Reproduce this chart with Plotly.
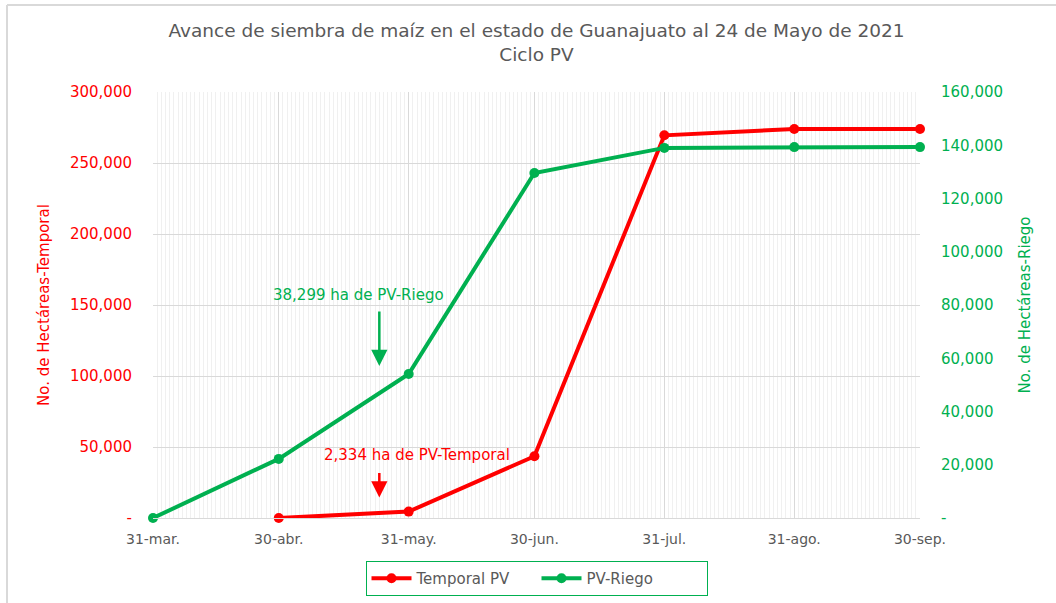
import plotly.graph_objects as go

# ---- data ----
temporal_dates = ["2021-04-30", "2021-05-31", "2021-06-30", "2021-07-31", "2021-08-31", "2021-09-30"]
temporal_values = [0, 4500, 43500, 269500, 274000, 274000]

riego_dates = ["2021-03-31", "2021-04-30", "2021-05-31", "2021-06-30", "2021-07-31", "2021-08-31", "2021-09-30"]
riego_values = [0, 22200, 54100, 129600, 139000, 139300, 139300]

x_tickvals = ["2021-03-31", "2021-04-30", "2021-05-31", "2021-06-30", "2021-07-31", "2021-08-31", "2021-09-30"]
x_ticktext = ["31-mar.", "30-abr.", "31-may.", "30-jun.", "31-jul.", "31-ago.", "30-sep."]

y1_tickvals = [0, 50000, 100000, 150000, 200000, 250000, 300000]
y1_ticktext = ["-", "50,000", "100,000", "150,000", "200,000", "250,000", "300,000"]
y2_tickvals = [0, 20000, 40000, 60000, 80000, 100000, 120000, 140000, 160000]
y2_ticktext = ["-", "20,000", "40,000", "60,000", "80,000", "100,000", "120,000", "140,000", "160,000"]

RED = "#FF0000"
GREEN = "#00B050"
GRAY = "#595959"
FONT = "DejaVu Sans"

fig = go.Figure()
fig.add_trace(go.Scatter(
    x=temporal_dates, y=temporal_values, name="Temporal PV", mode="lines+markers",
    line=dict(color=RED, width=4), marker=dict(color=RED, size=10), cliponaxis=False,
    yaxis="y"))
fig.add_trace(go.Scatter(
    x=riego_dates, y=riego_values, name="PV-Riego", mode="lines+markers",
    line=dict(color=GREEN, width=4), marker=dict(color=GREEN, size=10), cliponaxis=False,
    yaxis="y2"))

L, R, T, B = 153, 136, 92, 85
W, H = 1056, 603
pw, ph = W - L - R, H - T - B

def px(x):
    return (x - L) / pw

def py(y):
    return (H - B - y) / ph

fig.update_layout(
    width=W, height=H,
    margin=dict(l=L, r=R, t=T, b=B, autoexpand=False),
    paper_bgcolor="white", plot_bgcolor="white",
    font=dict(family=FONT, color=GRAY),
    title=dict(text="Avance de siembra de maíz en el estado de Guanajuato al 24 de Mayo de 2021<br>Ciclo PV",
               x=0.5, xref="paper", xanchor="center", y=1 - 37 / H, yref="container", yanchor="top",
               font=dict(size=18.5, color=GRAY, family=FONT)),
    xaxis=dict(type="date", range=["2021-03-31", "2021-09-30"],
               tickvals=x_tickvals, ticktext=x_ticktext,
               tickfont=dict(size=14, color=GRAY),
               showgrid=True, gridcolor="#D9D9D9", gridwidth=1,
               minor=dict(dtick=86400000, showgrid=True, gridcolor="#F0F0F0", gridwidth=1, tick0="2021-03-31"),
               showline=True, linecolor="#D9D9D9", linewidth=1,
               zeroline=False, ticks="", ticklabelstandoff=8, automargin=False),
    yaxis=dict(range=[0, 300000], tickvals=y1_tickvals, ticktext=y1_ticktext,
               tickfont=dict(size=15, color=RED),
               title=dict(text="No. de Hectáreas-Temporal", font=dict(size=15, color=RED), standoff=16),
               showgrid=True, gridcolor="#D9D9D9", zeroline=False, ticklabelstandoff=20,
               automargin=False),
    yaxis2=dict(range=[0, 160000], tickvals=y2_tickvals, ticktext=y2_ticktext,
                overlaying="y", side="right",
                tickfont=dict(size=15, color=GREEN),
                title=dict(text="No. de Hectáreas-Riego", font=dict(size=15, color=GREEN), standoff=17),
                showgrid=False, zeroline=False, ticklabelstandoff=20, automargin=False),
    legend=dict(orientation="h", x=0.5, xanchor="center", y=py(561), yanchor="top",
                bordercolor=GREEN, borderwidth=1, bgcolor="white",
                font=dict(size=15, color=GRAY), itemwidth=40, entrywidth=115),
    showlegend=True,
)

# frame lines
fig.add_shape(type="line", xref="paper", yref="paper", x0=px(7), x1=px(1056), y0=py(5), y1=py(5),
              line=dict(color="#D9D9D9", width=2))
fig.add_shape(type="line", xref="paper", yref="paper", x0=px(7), x1=px(7), y0=py(5), y1=py(603),
              line=dict(color="#D9D9D9", width=2))

# annotations
fig.add_annotation(x="2021-05-19", y=157000, xref="x", yref="y", text="38,299 ha de PV-Riego",
                   showarrow=False, font=dict(size=15, color=GREEN))
fig.add_annotation(x="2021-05-24", y=107000, xref="x", yref="y", ax=0, ay=-56, text="",
                   showarrow=True, arrowhead=2, arrowsize=1.3, arrowwidth=2.5, arrowcolor=GREEN)
fig.add_annotation(x="2021-06-02", y=44500, xref="x", yref="y", text="2,334 ha de PV-Temporal",
                   showarrow=False, font=dict(size=15, color=RED))
fig.add_annotation(x="2021-05-24", y=14500, xref="x", yref="y", ax=0, ay=-26, text="",
                   showarrow=True, arrowhead=2, arrowsize=1.3, arrowwidth=2.5, arrowcolor=RED)

fig.write_html("out.html", config={"displayModeBar": False},
               post_script="document.body.style.margin='0';")
